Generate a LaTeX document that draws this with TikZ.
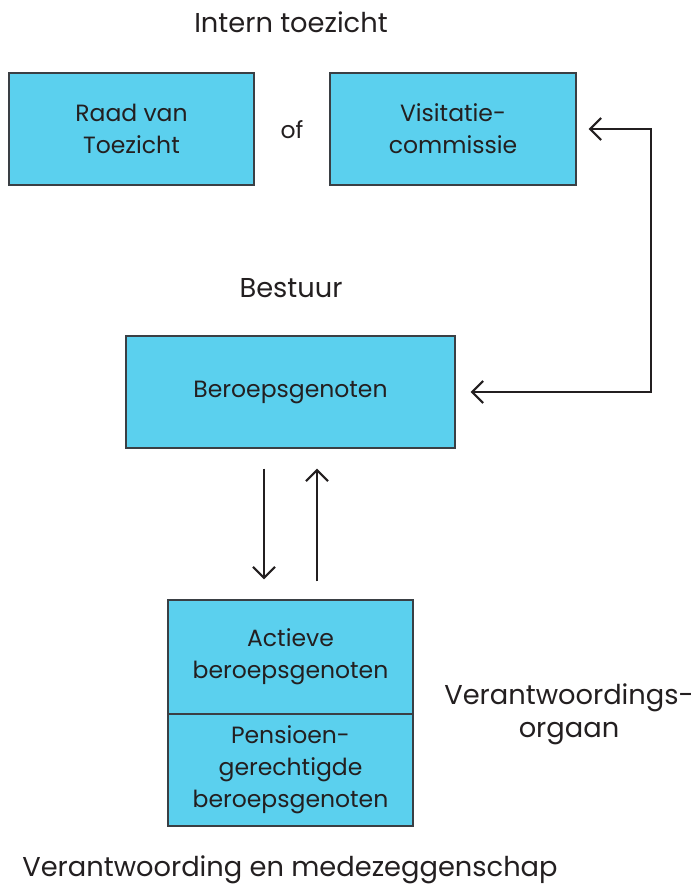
\documentclass[tikz,border=0pt]{standalone}
\usepackage{fontspec}
\setmainfont{Poppins}
\usetikzlibrary{arrows.meta}
\definecolor{boxfill}{HTML}{5BD0EE}
\definecolor{ink}{HTML}{231F20}
\definecolor{edge}{HTML}{3A3F44}
\tikzset{
  box/.style={draw=edge, line width=1.2pt, fill=boxfill, text=ink, align=center, inner sep=0pt, font=\fontsize{23.5}{32}\selectfont},
  lbl/.style={text=ink, align=center, inner sep=0pt, font=\fontsize{27.3}{33}\selectfont},
  arr/.style={draw=ink, line width=2.2pt, -{Straight Barb[length=11pt,width=22pt,line width=2.2pt]}},
  darr/.style={draw=ink, line width=2.2pt, {Straight Barb[length=11pt,width=22pt,line width=2.2pt]}-{Straight Barb[length=11pt,width=22pt,line width=2.2pt]}}
}
\begin{document}
\begin{tikzpicture}[x=1pt,y=-1pt]
\useasboundingbox (0,0) rectangle (698,890);
\node[lbl] (intern) at (291,22) {Intern toezicht};
\node[box, minimum width=245pt, minimum height=112pt] (raad) at (131.5,129) {Raad van\\Toezicht};
\node[box, draw=none, fill=none] (of) at (292,130) {of};
\node[box, minimum width=246pt, minimum height=112pt] (visit) at (453,129) {Visitatie-\\commissie};
\node[lbl] (bestuur) at (291,288) {Bestuur};
\node[box, minimum width=329pt, minimum height=112pt] (ber) at (290.5,392) {Beroepsgenoten};
\node[box, minimum width=245pt, minimum height=114pt] (act) at (290.5,657) {Actieve\\beroepsgenoten};
\node[box, minimum width=245pt, minimum height=112pt] (pens) at (290.5,770) {Pensioen-\\gerechtigde\\beroepsgenoten};
\node[lbl] (vorg) at (569,714) {Verantwoordings-\\orgaan};
\node[lbl] (vmz) at (290,870) {Verantwoording en medezeggenschap};
\draw[arr] ([xshift=-26.5pt,yshift=-20pt]ber.south) -- ([xshift=-26.5pt,yshift=20pt]act.north);
\draw[arr] ([xshift=26.5pt,yshift=18pt]act.north) -- ([xshift=26.5pt,yshift=-20pt]ber.south);
\coordinate (corner) at ([xshift=74pt]visit.east);
\draw[darr] ([xshift=12pt]visit.east) -- (corner) |- ([xshift=15pt]ber.east);
\end{tikzpicture}
\end{document}
